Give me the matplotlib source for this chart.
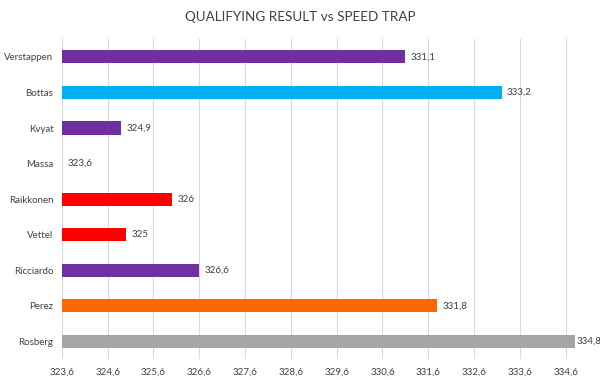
import matplotlib.pyplot as plt
import numpy as np

plt.rcParams['font.family'] = ['Lato', 'DejaVu Sans']

drivers = ['Verstappen', 'Bottas', 'Kvyat', 'Massa', 'Raikkonen', 'Vettel', 'Ricciardo', 'Perez', 'Rosberg']
speeds = [331.1, 333.2, 324.9, 323.6, 326.0, 325.0, 326.6, 331.8, 334.8]
colors = ['#7030A0', '#00B0F0', '#7030A0', '#7030A0', '#FF0000', '#FF0000', '#7030A0', '#FF6600', '#A5A5A5']
base = 323.6
ticks = [323.6 + i for i in range(12)]


def fmt(v):
    s = ('%.1f' % v).rstrip('0').rstrip('.')
    return s.replace('.', ',')


fig = plt.figure(figsize=(6, 3.8), dpi=100)
ax = fig.add_axes([0.103, 0.055, 0.855, 0.842])

y = np.arange(len(drivers))
ax.barh(y, np.array(speeds) - base, left=base, height=0.37, color=colors, zorder=3)
xmax = 334.8
for yi, v in zip(y, speeds):
    # label sits right after the bar, squeezed in when it touches the edge
    off = 0.03 if v >= xmax else 0.12
    ax.text(v + off, yi, fmt(v), va='center', ha='left', fontsize=7, color='#404040',
            zorder=4, clip_on=False)

ax.set_yticks(y)
ax.set_yticklabels(drivers, fontsize=7, color='#404040')
ax.set_ylim(len(drivers) - 0.5, -0.5)

ax.set_xlim(base, xmax)
ax.set_xticks(ticks)
ax.set_xticklabels([fmt(t) for t in ticks], fontsize=7, color='#404040')
ax.grid(axis='x', color='#D9D9D9', linewidth=0.8, zorder=0)
ax.tick_params(length=0, pad=6)
for s in ['top', 'right', 'bottom', 'left']:
    ax.spines[s].set_visible(False)
ax.axvline(base, color='#D9D9D9', linewidth=0.8, zorder=1)

fig.text(0.5, 0.955, 'QUALIFYING RESULT vs SPEED TRAP', ha='center', va='center',
         fontsize=9.7, color='#404040')

fig.savefig('out.png', dpi=100)
